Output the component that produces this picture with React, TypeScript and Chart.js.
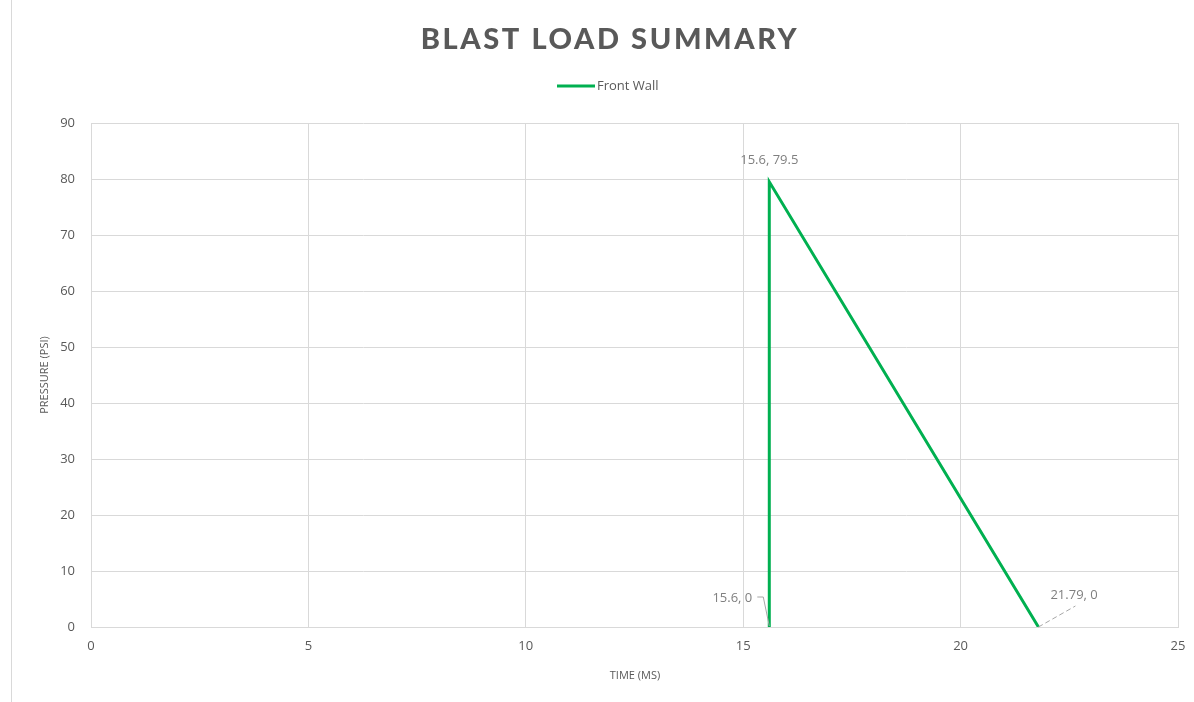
import React, { useEffect, useRef } from "react";
import { Chart, registerables } from "chart.js";

Chart.register(...registerables);

const seriesName = "Front Wall";
const timeMs = [15.6, 15.6, 21.79];
const pressurePsi = [0, 79.5, 0];
const pointLabels = ["15.6, 0", "15.6, 79.5", "21.79, 0"];
const chartTitle = "BLAST LOAD SUMMARY";
const xTitle = "TIME (MS)";
const yTitle = "PRESSURE (PSI)";

const GREEN = "#00B050";
const TEXT = "#595959";
const LABEL = "#7f7f7f";
const GRID = "#d9d9d9";

const decorPlugin = {
  id: "decor",
  afterDraw(chart: any) {
    const ctx = chart.ctx as CanvasRenderingContext2D;
    const xs = chart.scales.x;
    const ys = chart.scales.y;
    ctx.save();
    // outer border line
    ctx.strokeStyle = GRID;
    ctx.lineWidth = 1;
    ctx.beginPath();
    ctx.moveTo(11.5, 0);
    ctx.lineTo(11.5, 702);
    ctx.stroke();

    // title
    ctx.fillStyle = TEXT;
    ctx.font = "900 29px Lato";
    (ctx as any).letterSpacing = "2.6px";
    ctx.textAlign = "center";
    ctx.textBaseline = "middle";
    ctx.fillText(chartTitle, 610, 40);
    (ctx as any).letterSpacing = "0px";

    // legend
    ctx.strokeStyle = GREEN;
    ctx.lineWidth = 3;
    ctx.beginPath();
    ctx.moveTo(557, 86);
    ctx.lineTo(595, 86);
    ctx.stroke();
    ctx.font = "13px 'Open Sans'";
    ctx.textAlign = "left";
    ctx.fillStyle = TEXT;
    ctx.fillText(seriesName, 597, 86);

    // axis titles
    ctx.font = "11px 'Open Sans'";
    ctx.textAlign = "center";
    ctx.fillText(xTitle, 635, 676);
    ctx.save();
    ctx.translate(45, 375);
    ctx.rotate(-Math.PI / 2);
    ctx.fillText(yTitle, 0, 0);
    ctx.restore();

    // data labels
    ctx.font = "13px 'Open Sans'";
    ctx.fillStyle = LABEL;
    const p = timeMs.map((t, i) => ({
      x: xs.getPixelForValue(t),
      y: ys.getPixelForValue(pressurePsi[i]),
    }));
    // 15.6, 0
    ctx.textAlign = "right";
    ctx.fillText(pointLabels[0], p[0].x - 17, p[0].y - 29);
    ctx.strokeStyle = "#a6a6a6";
    ctx.lineWidth = 1;
    ctx.beginPath();
    ctx.moveTo(p[0].x - 12, p[0].y - 30);
    ctx.lineTo(p[0].x - 6, p[0].y - 30);
    ctx.lineTo(p[0].x, p[0].y - 1);
    ctx.stroke();
    // 15.6, 79.5
    ctx.textAlign = "center";
    ctx.fillText(pointLabels[1], p[1].x, p[1].y - 22);
    // 21.79, 0
    ctx.textAlign = "left";
    ctx.fillText(pointLabels[2], p[2].x + 12, p[2].y - 32);
    ctx.setLineDash([5, 3]);
    ctx.beginPath();
    ctx.moveTo(p[2].x, p[2].y);
    ctx.lineTo(p[2].x + 37, p[2].y - 21);
    ctx.stroke();
    ctx.setLineDash([]);
    ctx.restore();
  },
};

export default function App() {
  const ref = useRef<HTMLCanvasElement | null>(null);
  useEffect(() => {
    if (!ref.current) return;
    const chart = new Chart(ref.current, {
      type: "line",
      data: {
        datasets: [
          {
            label: seriesName,
            data: timeMs.map((t, i) => ({ x: t, y: pressurePsi[i] })),
            borderColor: GREEN,
            backgroundColor: GREEN,
            borderWidth: 3,
            pointRadius: 0,
            tension: 0,
            fill: false,
          },
        ],
      },
      options: {
        animation: false,
        responsive: false,
        maintainAspectRatio: false,
        layout: { padding: { top: 123, right: 16, left: 0, bottom: 0 } },
        plugins: {
          legend: { display: false },
          title: { display: false },
          tooltip: { enabled: false },
        },
        scales: {
          x: {
            type: "linear",
            min: 0,
            max: 25,
            ticks: {
              stepSize: 5,
              color: TEXT,
              font: { family: "'Open Sans'", size: 13 },
              padding: 11,
            },
            grid: { color: GRID, drawTicks: false },
            border: { color: GRID },
            afterFit: (s: any) => {
              s.height = 75;
              s.paddingLeft = 0;
              s.paddingRight = 0;
            },
          },
          y: {
            min: 0,
            max: 90,
            ticks: {
              stepSize: 10,
              color: TEXT,
              font: { family: "'Open Sans'", size: 13 },
              padding: 16,
            },
            grid: { color: GRID, drawTicks: false },
            border: { color: GRID },
            afterFit: (s: any) => {
              s.width = 91;
              s.paddingTop = 0;
              s.paddingBottom = 0;
            },
          },
        },
      },
      plugins: [decorPlugin],
    });
    return () => chart.destroy();
  }, []);
  return (
    <div style={{ position: "absolute", left: 0, top: 0, width: 1194, height: 702, background: "#fff" }}>
      <canvas ref={ref} width={1194} height={702} style={{ width: 1194, height: 702 }} />
    </div>
  );
}
